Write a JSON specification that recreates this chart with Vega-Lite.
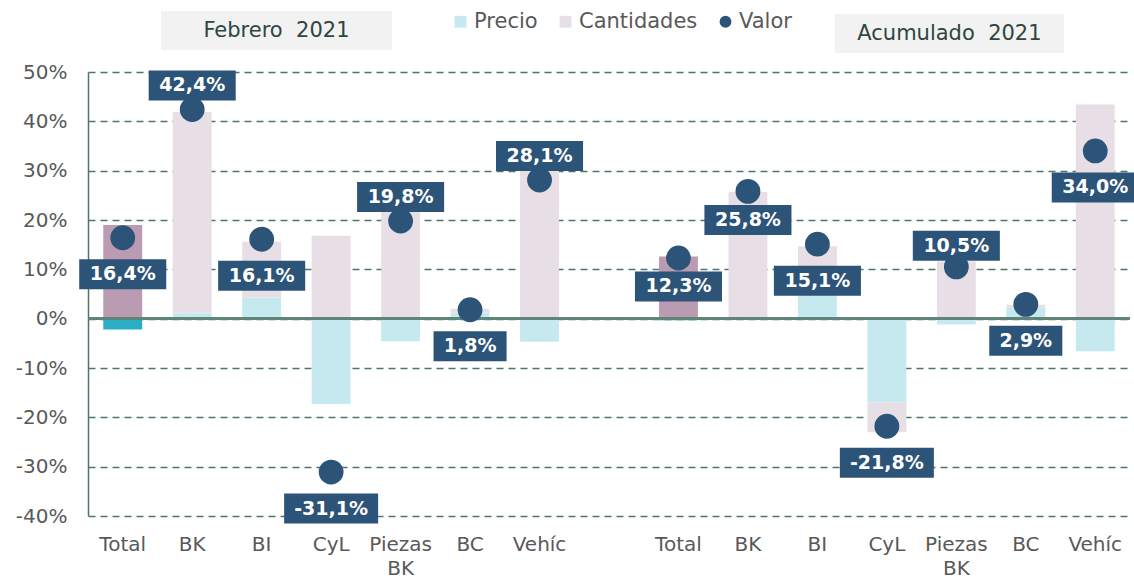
{
  "$schema": "https://vega.github.io/schema/vega-lite/v6.json",
  "width": 1042,
  "height": 444,
  "autosize": {"type": "none"},
  "padding": {"left": 88, "top": 72, "right": 4, "bottom": 64},
  "background": "white",
  "config": {
    "locale": {"number": {"decimal": ",", "thousands": ".", "grouping": [3], "currency": ["", " €"], "minus": "-"}},
    "view": {"stroke": null},
    "font": "DejaVu Sans"
  },
  "datasets": {
    "tabla": [
      {"id": "F|Total", "Precio": -0.022, "Cantidades": 0.190, "valor": 0.164},
      {"id": "F|BK", "Precio": 0.012, "Cantidades": 0.407, "valor": 0.424},
      {"id": "F|BI", "Precio": 0.043, "Cantidades": 0.113, "valor": 0.161},
      {"id": "F|CyL", "Precio": -0.173, "Cantidades": 0.168, "valor": -0.311},
      {"id": "F|Piezas BK", "Precio": -0.046, "Cantidades": 0.256, "valor": 0.198},
      {"id": "F|BC", "Precio": 0.012, "Cantidades": 0.008, "valor": 0.018},
      {"id": "F|Vehíc", "Precio": -0.047, "Cantidades": 0.344, "valor": 0.281},
      {"id": "A|Total", "Precio": -0.003, "Cantidades": 0.126, "valor": 0.123},
      {"id": "A|BK", "Precio": 0.002, "Cantidades": 0.255, "valor": 0.258},
      {"id": "A|BI", "Precio": 0.050, "Cantidades": 0.097, "valor": 0.151},
      {"id": "A|CyL", "Precio": -0.170, "Cantidades": -0.060, "valor": -0.218},
      {"id": "A|Piezas BK", "Precio": -0.012, "Cantidades": 0.116, "valor": 0.105},
      {"id": "A|BC", "Precio": 0.022, "Cantidades": 0.006, "valor": 0.029},
      {"id": "A|Vehíc", "Precio": -0.066, "Cantidades": 0.434, "valor": 0.340}
    ]
  },
  "data": {"name": "tabla"},
  "layer": [
    {
      "transform": [{"fold": ["Precio", "Cantidades"], "as": ["serie", "val"]}],
      "mark": {"type": "bar"},
      "encoding": {
        "x": {
          "field": "id", "type": "nominal",
          "scale": {"domain": ["F|Total", "F|BK", "F|BI", "F|CyL", "F|Piezas BK", "F|BC", "F|Vehíc", "gap", "A|Total", "A|BK", "A|BI", "A|CyL", "A|Piezas BK", "A|BC", "A|Vehíc"], "paddingInner": 0.44, "paddingOuter": 0.22},
          "axis": {"title": null, "domain": false, "ticks": false, "grid": false, "labelAngle": 0, "labelFontSize": 20, "labelFont": "DejaVu Sans", "labelColor": "#595959", "labelPadding": 18, "labelOverlap": false, "labelBound": false, "labelLineHeight": 24, "labelBaseline": "top",
            "labelExpr": "datum.value == 'gap' ? '' : split(split(datum.value, '|')[1], ' ')"}
        },
        "y": {
          "field": "val", "type": "quantitative", "stack": "zero",
          "scale": {"domain": [-0.4, 0.5], "nice": false, "zero": false},
          "axis": {"title": null, "values": [-0.4, -0.3, -0.2, -0.1, 0, 0.1, 0.2, 0.3, 0.4, 0.5], "format": ".0%", "labelFontSize": 20, "labelFont": "DejaVu Sans", "labelColor": "#595959", "labelPadding": 21, "ticks": false, "tickSize": 0, "domainColor": "#4E7566", "domainWidth": 1.5, "gridColor": "#4E7566", "gridDash": [7, 5], "gridWidth": 1.3}
        },
        "order": {"field": "serie", "sort": "descending"},
        "color": {
          "field": "serie", "type": "nominal",
          "scale": {"domain": ["Precio", "Cantidades", "Valor"], "range": ["#C5E9EF", "#E8DEE6", "#2C5378"]},
          "legend": {"orient": "none", "legendX": 362, "legendY": -61, "direction": "horizontal", "title": null, "symbolSize": 140, "labelFontSize": 21, "labelFont": "DejaVu Sans", "labelColor": "#595959", "columnPadding": 17, "labelOffset": 3, "symbolStrokeWidth": 0,
            "encode": {"symbols": {"update": {"shape": {"signal": "datum.value === 'Valor' ? 'circle' : 'square'"}}}}},
          "condition": [
            {"test": "indexof(datum.id, 'Total') >= 0 && datum.serie == 'Precio'", "value": "#2BADC3"},
            {"test": "indexof(datum.id, 'Total') >= 0 && datum.serie == 'Cantidades'", "value": "#BA9BB1"}
          ]
        }
      }
    },
    {
      "mark": {"type": "rule", "color": "#5F8479", "strokeWidth": 2},
      "encoding": {"y": {"datum": 0}}
    },
    {
      "mark": {"type": "circle", "size": 616, "opacity": 1},
      "encoding": {
        "x": {"field": "id", "type": "nominal"},
        "y": {"field": "valor", "type": "quantitative"},
        "color": {"datum": "Valor"}
      }
    },
    {
      "transform": [{"filter": "indexof(['F|BK', 'F|Piezas BK', 'F|Vehíc'], datum.id) >= 0"}],
      "encoding": {
        "x": {"field": "id", "type": "nominal"},
        "y": {"field": "valor", "type": "quantitative"}
      },
      "layer": [
        {"mark": {"type": "point", "filled": true, "opacity": 1, "size": 8836, "color": "#2C5378", "strokeWidth": 0, "yOffset": -24},
         "encoding": {"shape": {"condition": [{"test": "abs(datum.valor) < 0.1", "value": "M-0.777,-0.319H0.777V0.319H-0.777Z"}, {"test": "datum.valor < 0", "value": "M-1,-0.319H1V0.319H-1Z"}], "value": "M-0.926,-0.319H0.926V0.319H-0.926Z"}}},
        {"mark": {"type": "text", "color": "white", "fontWeight": "bold", "fontSize": 19, "font": "DejaVu Sans", "baseline": "middle", "align": "center", "yOffset": -24},
         "encoding": {"text": {"field": "valor", "format": ".1%"}}}
      ]
    },
    {
      "transform": [{"filter": "datum.id == 'A|Piezas BK'"}],
      "encoding": {
        "x": {"field": "id", "type": "nominal"},
        "y": {"field": "valor", "type": "quantitative"}
      },
      "layer": [
        {"mark": {"type": "point", "filled": true, "opacity": 1, "size": 8836, "color": "#2C5378", "strokeWidth": 0, "yOffset": -21},
         "encoding": {"shape": {"condition": [{"test": "abs(datum.valor) < 0.1", "value": "M-0.777,-0.319H0.777V0.319H-0.777Z"}, {"test": "datum.valor < 0", "value": "M-1,-0.319H1V0.319H-1Z"}], "value": "M-0.926,-0.319H0.926V0.319H-0.926Z"}}},
        {"mark": {"type": "text", "color": "white", "fontWeight": "bold", "fontSize": 19, "font": "DejaVu Sans", "baseline": "middle", "align": "center", "yOffset": -21},
         "encoding": {"text": {"field": "valor", "format": ".1%"}}}
      ]
    },
    {
      "transform": [{"filter": "datum.id == 'A|Total' || datum.id == 'A|BK'"}],
      "encoding": {
        "x": {"field": "id", "type": "nominal"},
        "y": {"field": "valor", "type": "quantitative"}
      },
      "layer": [
        {"mark": {"type": "point", "filled": true, "opacity": 1, "size": 8836, "color": "#2C5378", "strokeWidth": 0, "yOffset": 28.5},
         "encoding": {"shape": {"condition": [{"test": "abs(datum.valor) < 0.1", "value": "M-0.777,-0.319H0.777V0.319H-0.777Z"}, {"test": "datum.valor < 0", "value": "M-1,-0.319H1V0.319H-1Z"}], "value": "M-0.926,-0.319H0.926V0.319H-0.926Z"}}},
        {"mark": {"type": "text", "color": "white", "fontWeight": "bold", "fontSize": 19, "font": "DejaVu Sans", "baseline": "middle", "align": "center", "yOffset": 28.5},
         "encoding": {"text": {"field": "valor", "format": ".1%"}}}
      ]
    },
    {
      "transform": [{"filter": "indexof(['F|BK', 'F|Piezas BK', 'F|Vehíc', 'A|Piezas BK', 'A|Total', 'A|BK'], datum.id) < 0"}],
      "encoding": {
        "x": {"field": "id", "type": "nominal"},
        "y": {"field": "valor", "type": "quantitative"}
      },
      "layer": [
        {"mark": {"type": "point", "filled": true, "opacity": 1, "size": 8836, "color": "#2C5378", "strokeWidth": 0, "yOffset": 36.5},
         "encoding": {"shape": {"condition": [{"test": "abs(datum.valor) < 0.1", "value": "M-0.777,-0.319H0.777V0.319H-0.777Z"}, {"test": "datum.valor < 0", "value": "M-1,-0.319H1V0.319H-1Z"}], "value": "M-0.926,-0.319H0.926V0.319H-0.926Z"}}},
        {"mark": {"type": "text", "color": "white", "fontWeight": "bold", "fontSize": 19, "font": "DejaVu Sans", "baseline": "middle", "align": "center", "yOffset": 36.5},
         "encoding": {"text": {"field": "valor", "format": ".1%"}}}
      ]
    },
    {
      "data": {"values": [{"titulo": "Febrero\u00a0 2021"}]},
      "encoding": {
        "x": {"datum": "F|BI"},
        "y": {"datum": 0.5841}
      },
      "layer": [
        {"mark": {"type": "point", "filled": true, "opacity": 1, "size": 53361, "color": "#F2F2F2", "strokeWidth": 0, "xOffset": 14.8, "shape": "M-1,-0.1688H1V0.1688H-1Z"}},
        {"mark": {"type": "text", "color": "#2F4540", "fontSize": 21, "font": "DejaVu Sans", "baseline": "middle", "align": "center", "xOffset": 14.8},
         "encoding": {"text": {"field": "titulo"}}}
      ]
    },
    {
      "data": {"values": [{"titulo": "Acumulado\u00a0 2021"}]},
      "encoding": {
        "x": {"datum": "A|Piezas BK"},
        "y": {"datum": 0.578}
      },
      "layer": [
        {"mark": {"type": "point", "filled": true, "opacity": 1, "size": 52441, "color": "#F2F2F2", "strokeWidth": 0, "xOffset": -6.9, "shape": "M-1,-0.1703H1V0.1703H-1Z"}},
        {"mark": {"type": "text", "color": "#2F4540", "fontSize": 21, "font": "DejaVu Sans", "baseline": "middle", "align": "center", "xOffset": -6.9},
         "encoding": {"text": {"field": "titulo"}}}
      ]
    }
  ]
}
